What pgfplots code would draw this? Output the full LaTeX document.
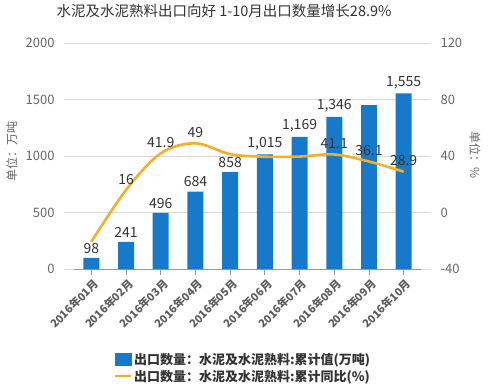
\documentclass[border=0pt]{standalone}
\usepackage{pgfplots}
\pgfplotsset{compat=1.18}
\usepackage{fontspec}
\setmainfont{Noto Sans CJK SC}
\definecolor{barblue}{HTML}{1779C9}
\definecolor{lineorange}{HTML}{F4AE27}
\definecolor{gridgray}{HTML}{DADADA}
\definecolor{axisgray}{HTML}{9A9A9A}
\definecolor{ticktext}{HTML}{666666}
\definecolor{labeltext}{HTML}{333333}
\begin{document}
\begin{tikzpicture}[x=1pt,y=1pt]
\useasboundingbox (-64,-119) rectangle (431,269);
\pgfplotsset{
  common/.style={
    at={(0,0)}, anchor=south west,
    scale only axis, width=367pt, height=226pt,
    xmin=0.212, xmax=10.788,
    clip=false,
    /pgf/number format/assume math mode=true,
    xtick={1,...,10},
    tick align=outside,
    major tick length=6pt,
    y axis line style={draw=none},
    x axis line style={draw=none},
    ytick style={draw=none},
    xtick style={draw=axisgray, line width=0.9pt},
    yticklabel style={font=\fontsize{13}{13}\selectfont, text=ticktext},
    ylabel style={font=\fontsize{12}{12}\selectfont, text=ticktext},
  },
  barlab/.style={nodes near coords={\pgfmathprintnumber[1000 sep={,}]{\pgfplotspointmeta}},
    every node near coord/.append style={font=\fontsize{14}{14}\selectfont, text=labeltext, yshift=1pt}},
}
\begin{axis}[common,
  axis x line*=bottom, axis y line*=left,
  ymin=0, ymax=2000, ytick={0,500,...,2000},
  yticklabel style={/pgf/number format/1000 sep={}},
  ymajorgrids, grid style={gridgray, line width=0.9pt},
  xticklabels={2016年01月,2016年02月,2016年03月,2016年04月,2016年05月,2016年06月,2016年07月,2016年08月,2016年09月,2016年10月},
  xticklabel style={rotate=45, anchor=north east, inner sep=1pt, yshift=-2pt, font=\fontsize{11}{11}\selectfont\bfseries, text=ticktext!90!black},
  ylabel={单位：万吨},
  ylabel style={at={(axis description cs:-0.142,0.518)}, anchor=center},
  title={水泥及水泥熟料出口向好 1-10月出口数量增长28.9\%},
  title style={at={(axis description cs:0.436,1.115)}, anchor=center, font=\fontsize{14.5}{15}\selectfont, text=labeltext},
]
\draw[axisgray, line width=1pt] (axis cs:0.5,0) -- (axis cs:10.5,0);
\addplot[ybar, bar width=16pt, bar shift=0pt, fill=barblue, draw=none, barlab]
coordinates {(1,98)(2,241)(3,496)(4,684)(5,858)(6,1015)(7,1169)(8,1346)(10,1555)};
\addplot[ybar, bar width=16pt, bar shift=0pt, fill=barblue, draw=none]
coordinates {(9,1449)};
\end{axis}
\begin{axis}[common,
  axis x line*=bottom, axis y line*=right,
  xticklabels={},
  xtick style={draw=none},
  ymin=-40, ymax=120, ytick={-40,0,...,120},
  ylabel={单位：\%},
  ylabel style={at={(axis description cs:1.12,0.504)}, anchor=center, rotate=180},
  legend style={at={(axis description cs:0.488,-0.354)}, anchor=north, draw=none, fill=none,
    font=\fontsize{13}{14}\selectfont\bfseries, text=labeltext, row sep=0pt},
  legend cell align=left,
]
\addlegendimage{legend image code/.code={\fill[barblue] (0pt,-6pt) rectangle (16pt,6pt);}}
\addlegendentry{出口数量：水泥及水泥熟料:累计值(万吨)}
\addplot[lineorange, line width=2.6pt, smooth, tension=0.55, mark=none,
  legend image code/.code={\draw[lineorange, line width=2pt] (0pt,0pt) -- (16pt,0pt);}]
coordinates {(1,-20.7)(2,16)(3,41.9)(4,49)(5,41.3)(6,39.5)(7,39.6)(8,41.1)(9,36.1)(10,28.9)};
\addlegendentry{出口数量：水泥及水泥熟料:累计同比(\%)}
\addplot[draw=none, mark=none, forget plot, point meta=y,
  nodes near coords,
  every node near coord/.append style={font=\fontsize{14}{14}\selectfont, text=labeltext, yshift=2pt}]
coordinates {(2,16)(3,41.9)(4,49)(8,41.1)(9,36.1)(10,28.9)};
\end{axis}
\end{tikzpicture}
\end{document}
